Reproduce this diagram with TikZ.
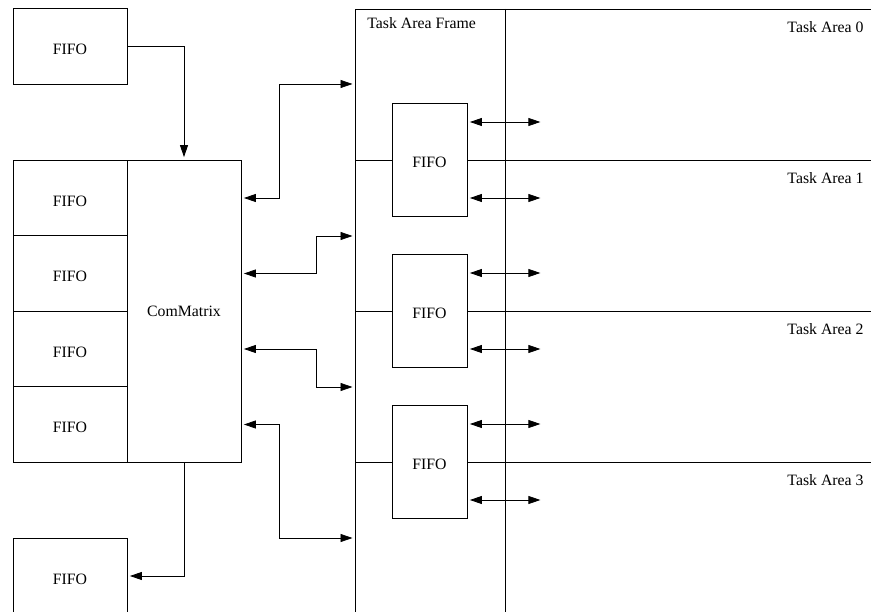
\documentclass[tikz,border=0pt]{standalone}
\usepackage{fontspec}
\setmainfont{Liberation Serif}
\usetikzlibrary{arrows.meta}

\tikzset{
  fifo/.style={draw, fill=white, minimum width=114pt, minimum height=75.5pt, inner sep=0pt, text height=17pt, text depth=0pt},
  tfifo/.style={draw, fill=white, minimum width=75pt, minimum height=113pt, inner sep=0pt, text height=16pt, text depth=0pt},
  lbl/.style={inner sep=0pt},
  link/.style={shorten >=2.5pt},
  duplex/.style={<->, shorten <=2.5pt, shorten >=2.5pt}
}

\begin{document}
\begin{tikzpicture}[x=1pt, y=-1pt, line width=0.8pt, >={Triangle[length=12pt,width=8pt]}, font=\fontsize{15.8}{19}\selectfont]
	\clip (0,0) rectangle (871,612);
	
	\draw (355,630) -- (355,9) -- (890,9);
	\draw (505,9) -- (505,630);
	\foreach \y in {160,311,462} {
		\draw (355,\y) -- (890,\y);
	}
	\node[lbl, anchor=west] (frame) at (367,23) {Task Area Frame};
	\foreach \i/\y in {0/27, 1/178, 2/329, 3/480} {
		\node[lbl, anchor=east] (area\i) at (864,\y) {Task Area \i};
	}
	
	\node[fifo] (fifotop) at (70,46.5) {FIFO};
	\foreach \i/\y in {1/198, 2/273.5, 3/349, 4/424.5} {
		\node[fifo] (f\i) at (70,\y) {FIFO};
	}
	\node[draw, minimum width=114pt, minimum height=302pt, inner sep=0pt] (cm) at (184,311) {ComMatrix};
	\node[fifo] (fifobot) at (70,576) {FIFO};
	
	\draw[->, link] (fifotop.east) -| (cm.north);
	\draw[->, link] (cm.south) |- (fifobot.east);
	
	\coordinate (fa) at (355,84);
	\coordinate (fb) at (355,236);
	\coordinate (fc) at (355,387);
	\coordinate (fd) at (355,538);
	\foreach \i/\d/\c in {1/38/fa, 2/75/fb, 3/75/fc, 4/38/fd} {
		\draw[duplex] (cm.east |- f\i) -- ++(\d,0) |- (\c);
	}
	
	\foreach \i/\y in {1/160, 2/311, 3/462} {
		\node[tfifo] (tf\i) at (429.5,\y) {FIFO};
		\draw[<->, shorten <=2.5pt] ([yshift=38pt]tf\i.east) -- ++(73,0);
		\draw[<->, shorten <=2.5pt] ([yshift=-38pt]tf\i.east) -- ++(73,0);
	}
\end{tikzpicture}
\end{document}
